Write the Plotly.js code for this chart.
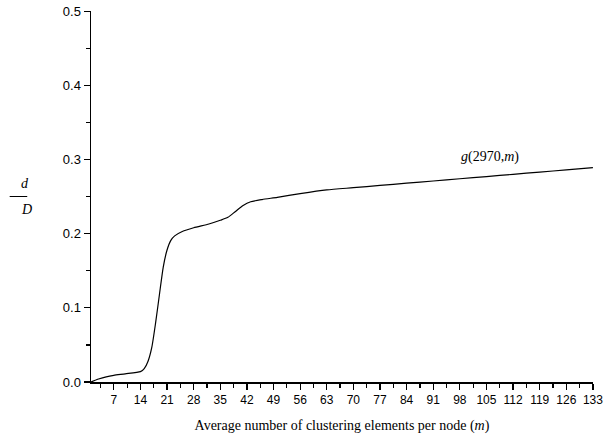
<!DOCTYPE html>
<html>
<head>
<meta charset="utf-8">
<script src="https://cdn.plot.ly/plotly-3.0.1.min.js"></script>
<style>html,body{margin:0;padding:0;background:#fff;}#chart{width:603px;height:446px;}</style>
</head>
<body>
<div id="chart"></div>
<script>
const m = [1, 3, 5, 7, 10, 14, 15, 16, 17, 18, 19, 20, 21, 22, 23, 25, 28, 32, 35, 37, 39, 41, 43, 46, 50, 56, 63, 70, 77, 84, 91, 98, 105, 112, 119, 126, 133];
const g = [0, 0.004, 0.007, 0.009, 0.011, 0.014, 0.018, 0.028, 0.047, 0.080, 0.118, 0.155, 0.178, 0.191, 0.197, 0.203, 0.208, 0.213, 0.218, 0.222, 0.230, 0.238, 0.243, 0.246, 0.249, 0.254, 0.259, 0.262, 0.265, 0.268, 0.271, 0.274, 0.277, 0.280, 0.283, 0.286, 0.289];
const xTicks = [7, 14, 21, 28, 35, 42, 49, 56, 63, 70, 77, 84, 91, 98, 105, 112, 119, 126, 133];
const yTicks = [0.0, 0.1, 0.2, 0.3, 0.4, 0.5];

const trace = {
  x: m, y: g, type: 'scatter', mode: 'lines',
  line: {color: '#000', width: 1.2, shape: 'spline', smoothing: 0.6},
  hoverinfo: 'skip', cliponaxis: false
};

const layout = {
  width: 603, height: 446,
  margin: {l: 90.5, r: 10, t: 11, b: 64},
  paper_bgcolor: '#fff', plot_bgcolor: 'rgba(0,0,0,0)',
  showlegend: false,
  font: {family: 'Liberation Sans, Arial, sans-serif', size: 12, color: '#000'},
  xaxis: {
    range: [1, 133.02], tickmode: 'array', tickvals: xTicks, ticktext: xTicks.map(String),
    ticks: 'outside', ticklen: 6, tickwidth: 1.2, tickcolor: '#000', tickangle: 0,
    ticklabeloverflow: 'allow',
    showline: true, linecolor: '#000', linewidth: 1.5, showgrid: false, zeroline: false,
    minor: {dtick: 3.5, tick0: 0, ticks: 'outside', ticklen: 4, tickwidth: 1.2, tickcolor: '#000', showgrid: false},
    tickfont: {family: 'Liberation Sans, Arial, sans-serif', size: 12},
    title: {text: 'Average number of clustering elements per node (<i>m</i>)', font: {family: 'Liberation Serif, Times New Roman, serif', size: 14}, standoff: 14}
  },
  yaxis: {
    range: [0, 0.5002], tickmode: 'array', tickvals: yTicks, ticktext: yTicks.map(v => v.toFixed(1)),
    ticks: 'outside', ticklen: 6, tickwidth: 1.2, tickcolor: '#000',
    ticklabeloverflow: 'allow',
    showline: true, linecolor: '#000', linewidth: 1.5, showgrid: false, zeroline: false,
    minor: {dtick: 0.05, tick0: 0, ticks: 'outside', ticklen: 4, tickwidth: 1.2, tickcolor: '#000', showgrid: false},
    tickfont: {family: 'Liberation Sans, Arial, sans-serif', size: 13}
  },
  annotations: [
    {x: 106, y: 0.303, xref: 'x', yref: 'y', text: '<i>g</i>(2970,<i>m</i>)', showarrow: false,
     font: {family: 'Liberation Serif, Times New Roman, serif', size: 14}},
    {x: -0.144, y: 0.535, xref: 'paper', yref: 'paper', text: '<i>d</i>', showarrow: false,
     font: {family: 'Liberation Serif, Times New Roman, serif', size: 14}},
    {x: -0.144, y: 0.465, xref: 'paper', yref: 'paper', text: '<i>D</i>', showarrow: false,
     font: {family: 'Liberation Serif, Times New Roman, serif', size: 14}}
  ],
  shapes: [
    {type: 'line', xref: 'paper', yref: 'paper', x0: -0.162, x1: -0.127, y0: 0.5, y1: 0.5, line: {color: '#000', width: 1}}
  ]
};

Plotly.newPlot('chart', [trace], layout, {staticPlot: true, displayModeBar: false});
</script>
</body>
</html>
